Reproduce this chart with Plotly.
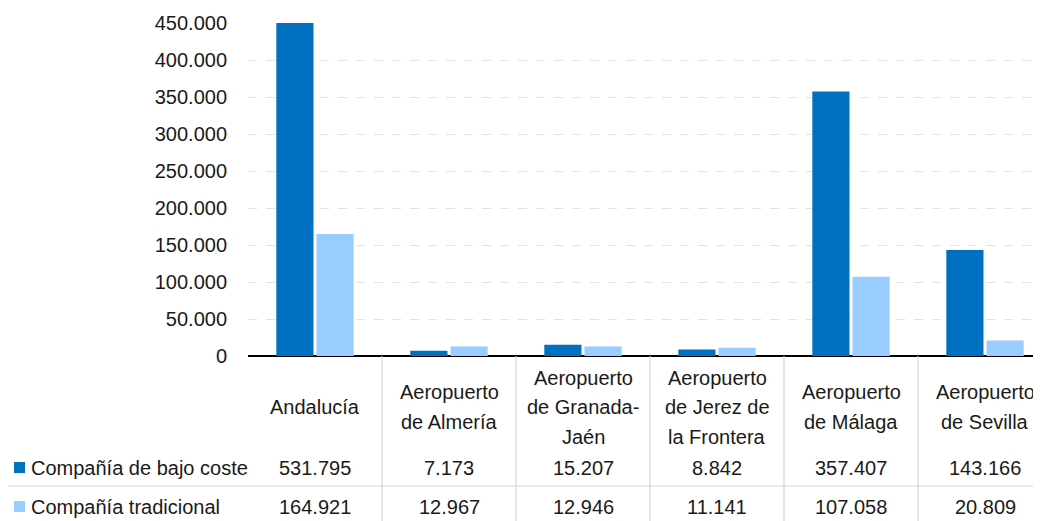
import plotly.graph_objects as go

categories = ["Andalucía", "Aeropuerto de Almería", "Aeropuerto de Granada-Jaén",
              "Aeropuerto de Jerez de la Frontera", "Aeropuerto de Málaga", "Aeropuerto de Sevilla"]
cat_label_lines = [["Andalucía"], ["Aeropuerto", "de Almería"], ["Aeropuerto", "de Granada-", "Jaén"],
                   ["Aeropuerto", "de Jerez de", "la Frontera"], ["Aeropuerto", "de Málaga"],
                   ["Aeropuerto", "de Sevilla"]]
series_names = ["Compañía de bajo coste", "Compañía tradicional"]
bajo_coste = [531795, 7173, 15207, 8842, 357407, 143166]
tradicional = [164921, 12967, 12946, 11141, 107058, 20809]
y_tickvals = [0, 50000, 100000, 150000, 200000, 250000, 300000, 350000, 400000, 450000]
y_ticktext = ["0", "50.000", "100.000", "150.000", "200.000", "250.000", "300.000",
              "350.000", "400.000", "450.000"]

colors = ["#0070C0", "#99CCFF"]

# page body has an 8px margin; work in reference-window pixels and shift
OFF = 8
WIN_W, WIN_H = 1041, 521
W, H = WIN_W - OFF, WIN_H - OFF
L_ref, T_ref, ZERO_ref = 248, 23, 356
L = L_ref - OFF
T = T_ref - OFF
B = H - (ZERO_ref - OFF)
plot_w = W - L
plot_h = H - T - B

def py(p):  # reference pixel y -> paper y
    return ((ZERO_ref - OFF) - (p - OFF)) / plot_h

def px(p):  # reference pixel x -> paper x
    return ((p - OFF) - L) / plot_w

col_w = 134.0
line_h = 29.5
x_idx = list(range(len(categories)))

fig = go.Figure()
for name, vals, col in zip(series_names, [bajo_coste, tradicional], colors):
    fig.add_trace(go.Bar(x=x_idx, y=vals, name=name, marker=dict(color=col, line=dict(width=0)),
                         showlegend=False))

table_font = dict(family="Liberation Sans, Arial, sans-serif", size=20, color="#1a1a1a")

annotations = []
shapes = []
for i, lines in enumerate(cat_label_lines):
    n = len(lines)
    for k, ln in enumerate(lines):
        yc = 407 + (k - (n - 1) / 2) * line_h
        annotations.append(dict(x=i, xref="x", y=py(yc), yref="paper", text=ln, showarrow=False,
                                xanchor="center", yanchor="middle", font=table_font))
    for vals, rowy in [(bajo_coste, 468), (tradicional, 507)]:
        annotations.append(dict(x=i, xref="x", y=py(rowy), yref="paper",
                                text=f"{vals[i]:,}".replace(",", "."), showarrow=False,
                                xanchor="center", yanchor="middle", font=table_font))

for name, col, rowy in zip(series_names, colors, [468, 507]):
    annotations.append(dict(x=px(29), xref="paper", y=py(rowy), yref="paper", text=name,
                            showarrow=False, xanchor="left", yanchor="middle", font=table_font))
    shapes.append(dict(type="rect", xref="paper", yref="paper", x0=px(14), x1=px(25),
                       y0=py(rowy - 6), y1=py(rowy + 5), fillcolor=col, line=dict(width=0)))

for k in range(len(categories) - 1):
    shapes.append(dict(type="line", xref="x", yref="paper", x0=k + 0.5, x1=k + 0.5,
                       y0=0, y1=py(WIN_H), line=dict(color="#D6D6D6", width=1.2)))
shapes.append(dict(type="line", xref="paper", yref="paper", x0=px(5), x1=1,
                   y0=py(486), y1=py(486), line=dict(color="#D6D6D6", width=1.2)))

fig.update_layout(
    width=W, height=H,
    margin=dict(l=L, r=0, t=T, b=B, pad=0),
    paper_bgcolor="white", plot_bgcolor="white",
    barmode="group", bargap=0.40, bargroupgap=0.075,
    annotations=annotations, shapes=shapes,
    xaxis=dict(range=[-0.5, plot_w / col_w - 0.5], showticklabels=False, showgrid=False,
               zeroline=False, showline=False, ticks=""),
    yaxis=dict(range=[0, 450000], tickvals=y_tickvals, ticktext=y_ticktext,
               showgrid=True, gridcolor="#E3E3E3", griddash="dash", gridwidth=1,
               zeroline=True, zerolinecolor="#000000", zerolinewidth=1.5,
               ticks="", ticklabelstandoff=20,
               tickfont=dict(family="Liberation Sans, Arial, sans-serif", size=20, color="#1a1a1a")),
)

fig.write_html("out.html")
